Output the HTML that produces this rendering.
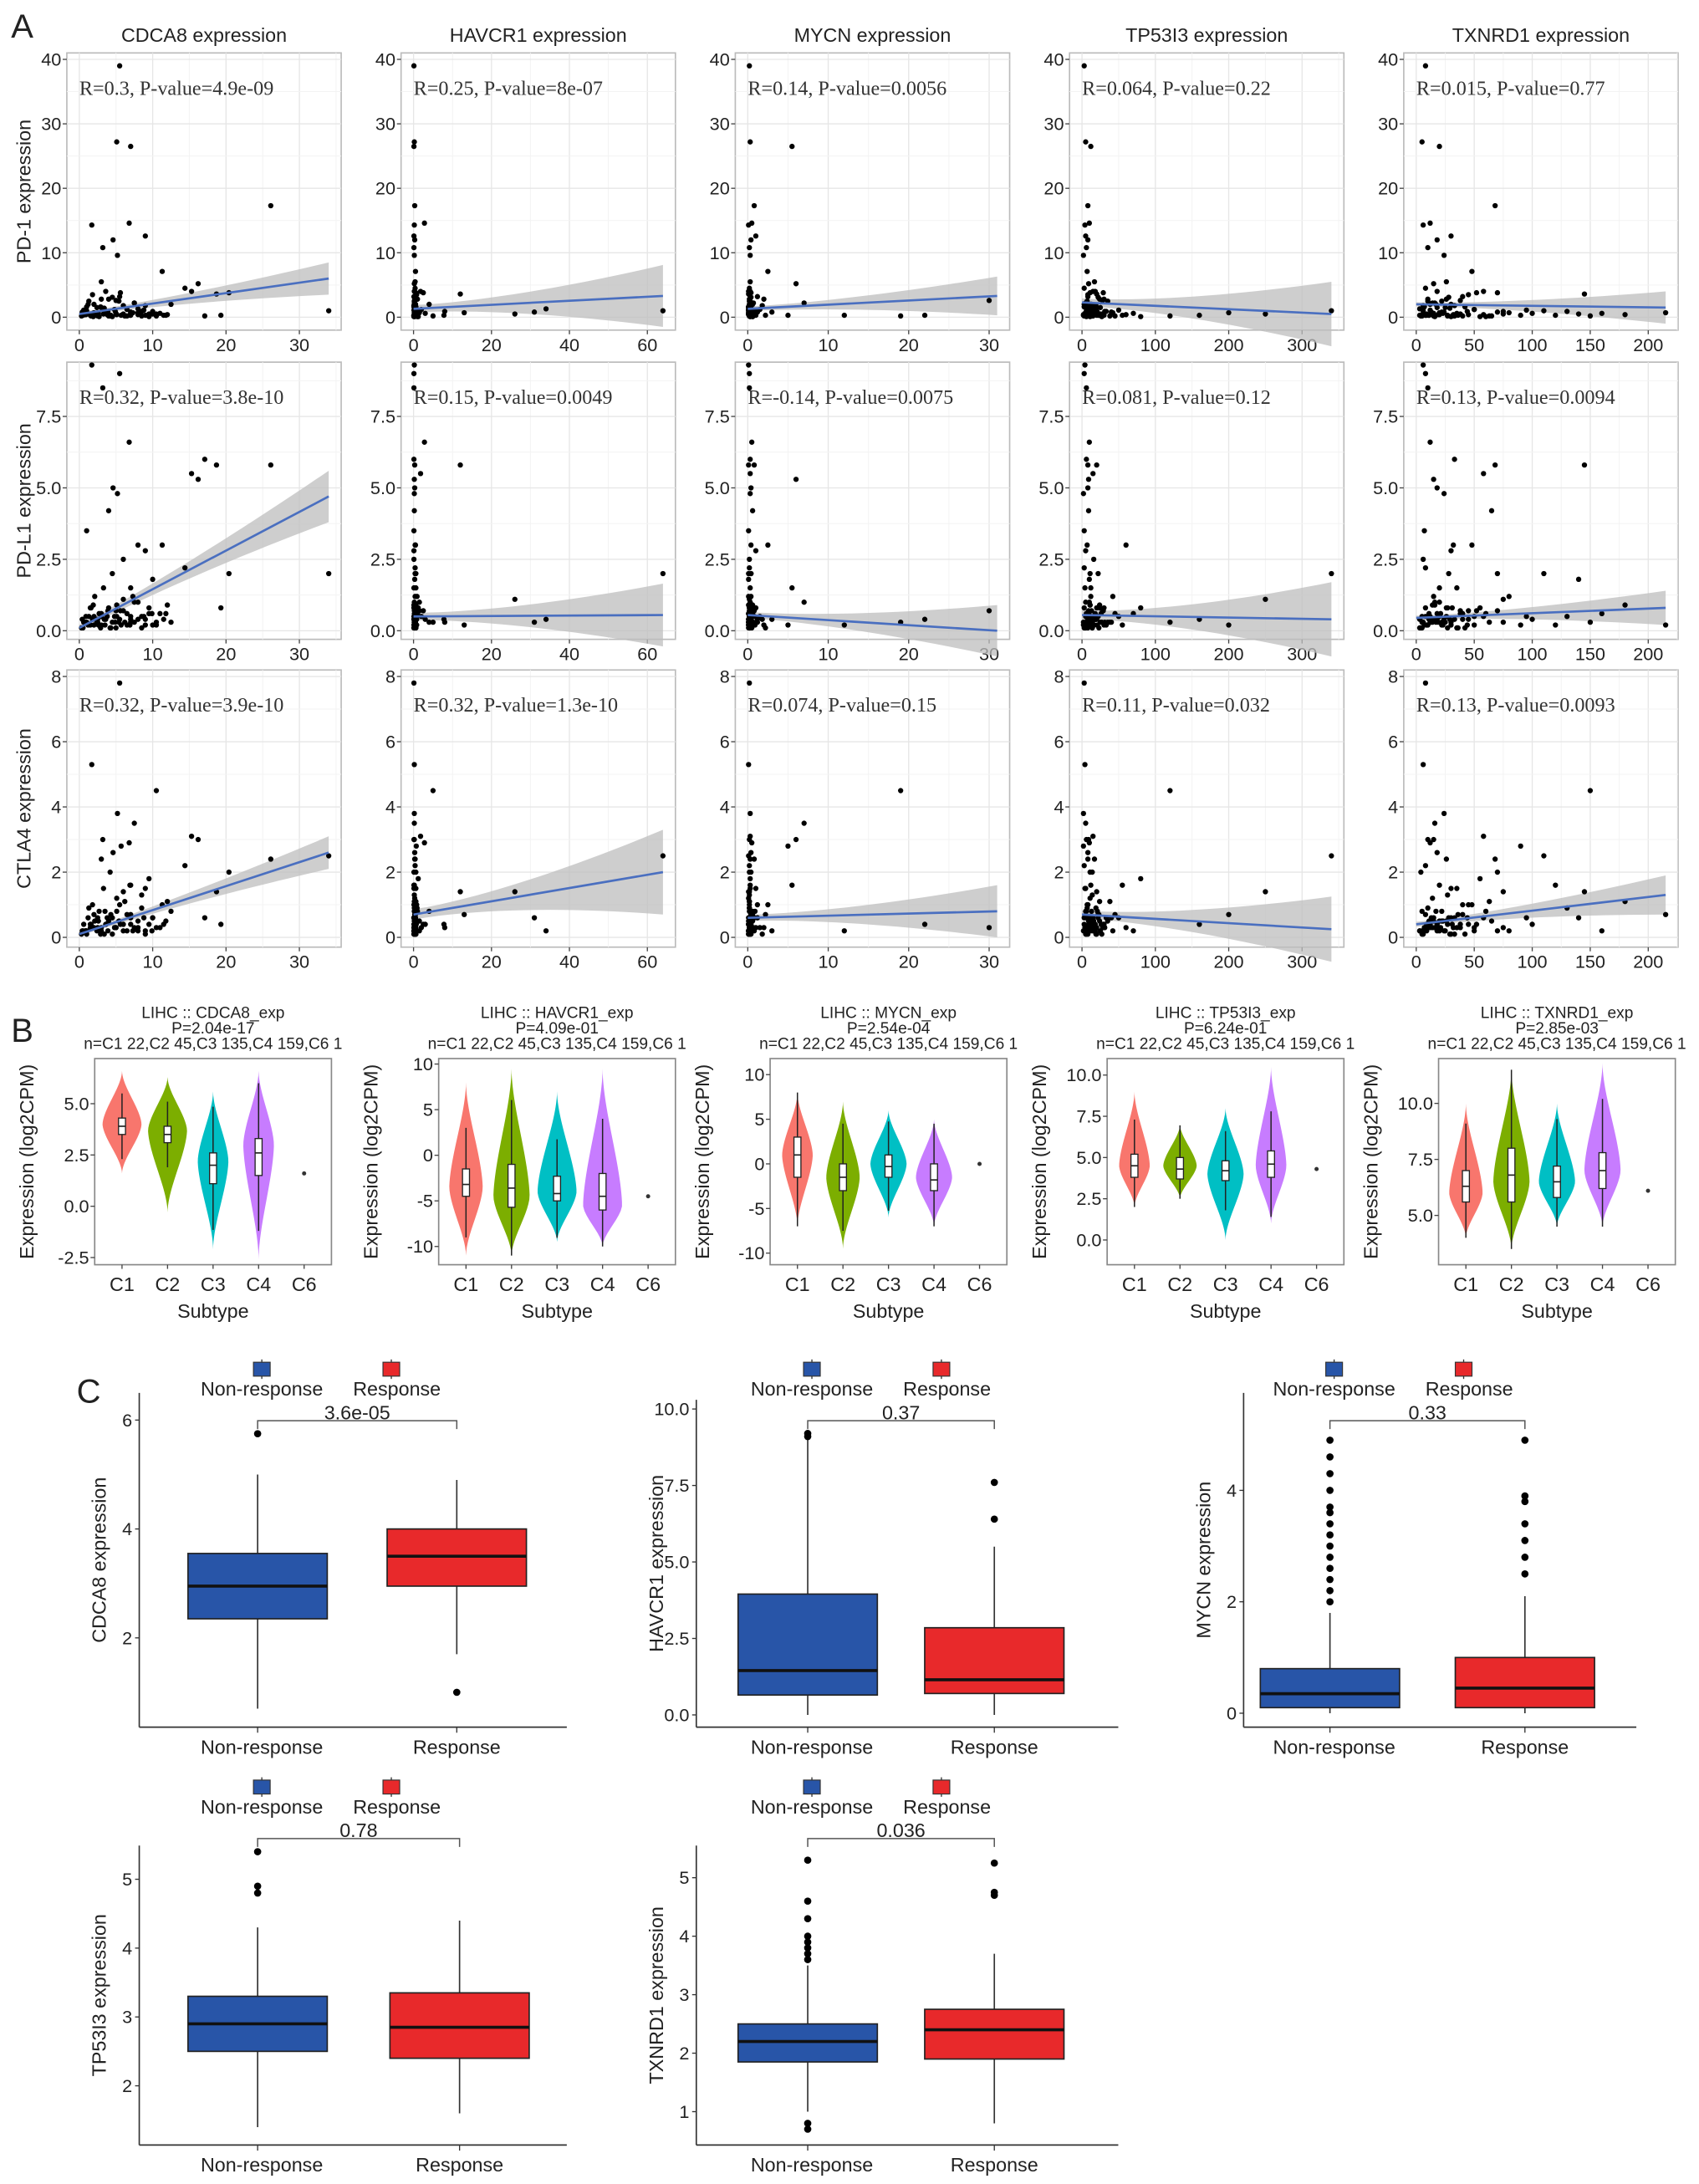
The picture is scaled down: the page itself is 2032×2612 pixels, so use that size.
<!DOCTYPE html>
<html><head><meta charset="utf-8"><style>
html,body{margin:0;padding:0;background:#fff;}
svg{display:block;}
</style></head><body>
<svg id="fig" xmlns="http://www.w3.org/2000/svg" width="2032" height="2612" viewBox="0 0 1220 1568" preserveAspectRatio="none" font-family="Liberation Sans, sans-serif"></svg>
<script>
// ---------- Panel A data (per-sample values) ----------
const geneNames = ["CDCA8","HAVCR1","MYCN","TP53I3","TXNRD1"];
const markerNames = ["PD-1","PD-L1","CTLA4"];
const cdca8 = [0.3,0.6,0.9,1.2,1.5,1.8,2.1,2.4,2.7,3.0,3.3,3.6,3.9,4.2,4.5,4.8,5.1,5.4,5.7,6.0,6.5,7.0,7.5,8.0,8.5,9.0,9.5,10,10.5,11,11.5,12,1.0,2.0,3.0,4.0,5.0,6.0,7.0,8.0,1.7,3.2,4.6,5.2,6.8,9.0,11.3,14.4,15.3,16.2,18.7,20.4,19.3,17.1,5.5,5.1,7.0,26.1,34.0,2.5,
 0.5,1,1.5,2,2.5,3,3.5,4,4.5,5,5.5,6,6.5,7,7.5,8,8.5,9,9.5,10,0.8,1.3,1.9,2.6,3.4,4.3,5.6,6.2,7.3,8.8,10.5,11.8,12.5,0.4,1.6,2.9,3.8,4.9,6.9,9.9];
const havcr1 = [0.1,0.3,0.2,0.5,0.1,0.8,0.4,0.2,1.0,0.3,0.6,0.2,1.5,0.1,0.4,2.0,0.3,0.2,0.7,0.1,0.5,3.0,0.2,0.4,0.9,0.1,1.2,0.3,5.0,0.2,7.8,0.6,0.1,13.0,0.4,0.2,0.3,26.0,31.0,34.0,0.2,0.1,0.3,0.2,2.8,0.1,0.5,0.4,1.8,0.2,12.0,0.6,0.3,0.1,0.1,0.2,0.1,0.3,64,0.4,
 0.1,0.2,0.3,0.5,0.1,0.4,0.2,1.0,0.3,0.6,0.1,0.2,0.8,0.4,0.3,1.5,0.2,0.1,0.7,0.3,0.5,0.2,0.1,0.4,0.6,0.3,2.5,0.2,0.9,0.1,0.3,0.5,4.0,0.2,0.1,0.6,0.3,8.0,0.2,0.4];
const mycn = [0.2,0.1,0.5,0.3,1.0,0.2,0.4,0.1,0.6,2.0,0.3,0.1,0.8,0.2,0.4,1.5,0.1,0.3,5.0,0.2,0.6,0.1,7.0,0.4,0.2,12.0,0.3,0.1,19.0,0.5,22.0,0.2,0.1,0.4,0.3,0.6,30.0,0.2,1.2,0.3,0.1,0.2,0.4,0.3,0.5,1.0,2.5,0.2,0.3,6.0,0.1,0.4,0.2,0.3,0.2,0.3,5.5,0.8,0.1,0.2,
 0.3,0.1,0.2,0.6,0.4,0.1,0.9,0.2,0.3,0.5,1.2,0.2,0.1,0.4,0.7,0.3,0.2,1.8,0.1,0.5,0.3,0.2,0.6,0.1,0.4,2.2,0.3,0.2,0.1,0.8,0.5,0.3,0.2,3.0,0.4,0.1,0.6,0.2,0.3,0.5];
const tp53i3 = [5,10,15,3,20,8,12,25,6,30,4,18,9,14,22,7,11,35,2,16,45,13,5,60,19,8,80,10,120,6,160,24,3,200,17,9,28,250,40,12,4,6,8,2,10,5,7,3,15,9,20,11,30,6,3,5,12,8,340,14,
 3,6,9,12,15,18,21,24,27,4,8,13,17,22,5,10,14,19,26,33,2,7,11,16,20,23,29,38,42,50,6,9,13,17,3,8,12,31,55,70];
const txnrd1 = [5,12,20,30,8,45,15,25,60,10,35,18,70,4,28,50,14,22,90,6,40,100,16,32,130,9,55,140,150,21,11,180,7,215,26,65,38,75,13,3,6,10,18,24,12,30,48,8,58,15,145,70,27,33,8,5,20,68,110,19,
 3,6,9,12,15,18,22,26,30,35,40,45,50,8,14,20,27,33,38,44,5,10,16,23,29,36,52,63,80,95,7,11,17,24,31,42,58,75,120,160];
const pd1 = [0.2,1.1,0.4,2.0,0.3,3.5,0.6,1.5,0.1,2.8,0.5,4.0,0.8,0.2,3.1,1.2,0.4,2.5,0.3,1.8,0.2,0.6,2.2,0.4,0.9,0.3,0.1,0.5,0.2,0.6,0.3,0.4,1.6,0.7,5.5,0.2,2.6,0.5,0.8,1.3,14.3,10.8,12.0,9.6,14.6,12.6,7.1,4.5,4.0,5.2,3.6,3.8,0.3,0.2,39,27.2,26.5,17.3,1.0,0.4,
 0.3,1.0,0.5,2.0,0.2,1.5,0.8,2.8,0.1,0.6,3.2,0.4,1.2,0.3,2.2,0.7,0.2,1.8,0.5,0.9,0.4,2.5,0.1,0.6,1.4,0.3,3.8,0.2,0.7,1.1,0.5,0.3,2.0,0.8,0.2,1.6,0.4,0.9,0.3,0.6];
const pdl1 = [0.1,0.3,0.5,0.2,0.8,0.4,1.2,0.3,0.6,0.2,1.5,0.4,0.7,0.1,2.0,0.5,0.9,0.3,0.2,2.5,0.6,0.4,1.0,3.0,0.5,0.2,0.8,1.8,0.3,0.6,0.4,0.9,3.5,0.2,0.5,4.2,0.7,1.1,0.3,0.4,9.3,8.5,5.0,4.8,6.6,2.8,3.0,2.2,5.5,5.3,5.8,2.0,0.8,6.0,9.0,0.5,1.5,5.8,2.0,0.3,
 0.1,0.3,0.2,0.5,0.4,0.6,0.2,0.8,0.3,0.1,0.4,0.7,0.2,0.5,0.3,1.0,0.1,0.4,0.6,0.2,0.3,0.5,0.9,0.2,0.4,0.1,0.7,0.3,1.2,0.5,0.2,0.6,0.3,0.4,0.8,0.1,0.5,0.3,0.2,0.6];
const ctla4 = [0.1,0.4,0.2,0.6,0.3,1.0,0.5,0.2,0.8,0.3,1.5,0.4,0.2,2.0,0.6,0.3,1.2,0.5,2.8,0.2,0.7,0.4,3.5,0.3,0.9,0.2,1.8,0.6,4.5,0.3,0.4,1.1,0.2,0.7,2.4,0.5,0.3,1.4,0.6,0.2,5.3,3.0,2.6,3.8,2.9,1.5,1.0,2.2,3.1,3.0,1.4,2.0,0.4,0.6,7.8,0.8,1.6,2.4,2.5,0.3,
 0.2,0.1,0.4,0.3,0.6,0.2,0.8,0.5,0.1,0.3,1.0,0.4,0.2,0.7,0.3,0.5,1.3,0.1,0.4,0.6,0.2,0.9,0.3,0.5,0.1,0.7,0.4,1.1,0.2,0.6,0.3,0.5,0.8,0.2,0.4,0.1,0.6,0.3,1.6,0.2];
const geneVals = [cdca8,havcr1,mycn,tp53i3,txnrd1];
const markerVals = [pd1,pdl1,ctla4];
const xMaxData = [34,64,31,340,215];
const xTicks = [[0,10,20,30],[0,20,40,60],[0,10,20,30],[0,100,200,300],[0,50,100,150,200]];
const yTicksA = [[0,10,20,30,40],[0,2.5,5,7.5],[0,2,4,6,8]];
const yTickLabA = [["0","10","20","30","40"],["0.0","2.5","5.0","7.5"],["0","2","4","6","8"]];
const yDomA = [[-2,41],[-0.3,9.4],[-0.3,8.2]];
const annot = [
 ["R=0.3, P-value=4.9e-09","R=0.25, P-value=8e-07","R=0.14, P-value=0.0056","R=0.064, P-value=0.22","R=0.015, P-value=0.77"],
 ["R=0.32, P-value=3.8e-10","R=0.15, P-value=0.0049","R=-0.14, P-value=0.0075","R=0.081, P-value=0.12","R=0.13, P-value=0.0094"],
 ["R=0.32, P-value=3.9e-10","R=0.32, P-value=1.3e-10","R=0.074, P-value=0.15","R=0.11, P-value=0.032","R=0.13, P-value=0.0093"]];
const fitStart = [[0.5,1.3,1.3,2.3,2.0],[0.1,0.5,0.55,0.55,0.45],[0.1,0.7,0.6,0.7,0.4]];
const fitEnd   = [[6.0,3.3,3.3,0.5,1.5],[4.7,0.55,0.0,0.4,0.8],[2.6,2.0,0.8,0.25,1.3]];
const fitHW    = [[2.5,4.8,3.0,5.0,2.5],[0.9,1.1,0.9,1.3,0.6],[0.5,1.3,0.8,1.0,0.6]];

// ---------- Panel B data ----------
const violinTitles = ["CDCA8","HAVCR1","MYCN","TP53I3","TXNRD1"];
const violinP = ["P=2.04e-17","P=4.09e-01","P=2.54e-04","P=6.24e-01","P=2.85e-03"];
const subtypes = ["C1","C2","C3","C4","C6"];
const vMin  = [[1.6,-0.3,-2.1,-2.6],[-11,-11,-9.5,-10],[-7,-9.5,-6,-7],[2,2.5,0,1],[4,3.5,4.5,4.5]];
const vMax  = [[6.6,6.3,5.6,6.6],[8,9.5,7,9.5],[8,7,6,5],[9,7,8,10.5],[10,11.5,10,11.8]];
const vMode = [[4,3.7,2.2,3],[-3.5,-4.5,-4,-5.5],[1,-1.5,0,-1.5],[4.5,4.5,4,4.5],[6,6.5,6.5,7]];
const vWid  = [[14,14,11,11],[12,13,14,14],[11,12,13,13],[11,12,13,11],[12,13,13,13]];
const vQ1   = [[3.5,3.1,1.1,1.5],[-4.5,-5.7,-5,-6],[-1.5,-3,-1.5,-3],[3.8,3.7,3.6,3.8],[5.6,5.6,5.8,6.2]];
const vMed  = [[3.9,3.5,2.0,2.6],[-3.2,-3.6,-4.2,-4.5],[1,-1.5,-0.3,-1.8],[4.5,4.3,4.2,4.6],[6.3,6.8,6.5,7]];
const vQ3   = [[4.3,3.9,2.6,3.3],[-1.5,-1,-2.3,-2],[3,0,1,0],[5.2,5,4.8,5.4],[7,8,7.2,7.8]];
const vC6   = [1.6,-4.5,0,4.3,6.1];
const yDomB = [[-2.85,7.2],[-12,10.6],[-11.3,11.8],[-1.5,11],[2.8,12]];
const yTicksB = [[-2.5,0,2.5,5],[-10,-5,0,5,10],[-10,-5,0,5,10],[0,2.5,5,7.5,10],[5,7.5,10]];
const yTickLabB = [["-2.5","0.0","2.5","5.0"],["-10","-5","0","5","10"],["-10","-5","0","5","10"],["0.0","2.5","5.0","7.5","10.0"],["5.0","7.5","10.0"]];

// ---------- Panel C data ----------
const boxGenes = ["CDCA8","HAVCR1","MYCN","TP53I3","TXNRD1"];
const boxP = ["3.6e-05","0.37","0.33","0.78","0.036"];
const nrWhisk = [[0.7,5.0],[0,9.0],[0,1.8],[1.4,4.3],[1.0,3.5]];
const nrBox = [[2.35,2.95,3.55],[0.65,1.45,3.95],[0.1,0.35,0.8],[2.5,2.9,3.3],[1.85,2.2,2.5]];
const nrOut = [[5.75],[9.1,9.2],[2.0,2.2,2.4,2.6,2.8,3.0,3.2,3.4,3.6,3.7,4.0,4.3,4.6,4.9],[4.8,4.9,5.4],[0.7,0.8,3.6,3.7,3.8,3.9,4.0,4.3,4.6,5.3]];
const rWhisk = [[1.7,4.9],[0,5.5],[0,2.1],[1.6,4.4],[0.8,3.7]];
const rBox = [[2.95,3.5,4.0],[0.7,1.15,2.85],[0.1,0.45,1.0],[2.4,2.85,3.35],[1.9,2.4,2.75]];
const rOut = [[1.0],[6.4,7.6],[2.5,2.8,3.1,3.4,3.8,3.9,4.9],[],[4.7,4.75,5.25]];
const yDomC = [[0.36,6.5],[-0.4,10.3],[-0.25,5.75],[1.14,5.49],[0.43,5.55]];
const yTicksC = [[2,4,6],[0,2.5,5,7.5,10],[0,2,4],[2,3,4,5],[1,2,3,4,5]];
const yTickLabC = [["2","4","6"],["0.0","2.5","5.0","7.5","10.0"],["0","2","4"],["2","3","4","5"],["1","2","3","4","5"]];

// ---------- drawing ----------
const svg = document.getElementById('fig');
const NS = "http://www.w3.org/2000/svg";
function mk(tag, attrs, parent){const e=document.createElementNS(NS,tag);for(const k in attrs)e.setAttribute(k,attrs[k]);(parent||svg).appendChild(e);return e;}
function txt(s,x,y,size,anchor,parent,extra){const t=mk('text',Object.assign({x:x,y:y,'font-size':size,'text-anchor':anchor||'middle',fill:'#222'},extra||{}),parent);t.textContent=s;return t;}
function lin(d0,d1,r0,r1){return v=>r0+(v-d0)/(d1-d0)*(r1-r0);}

let lab;
lab = txt("A",8,27,24,'start');


lab = txt("B",8,748,24,'start');


lab = txt("C",55,1007,24,'start');



// Panel A
const colL = [48,288,528,768,1008];
const pW = 197;
const rowT = [38,260,481];
const pH = 199;
for(let r=0;r<3;r++){
  const yl = txt(markerNames[r]+" expression",0,0,14,'middle',null,{transform:`translate(22,${rowT[r]+pH/2}) rotate(-90)`});
  
  
  for(let c=0;c<5;c++){
    const g = mk('g',{});
    
    
    const L=colL[c],T=rowT[r],R=L+pW,B=T+pH;
    const xm=xMaxData[c];
    const xs=lin(-0.05*xm,1.05*xm,L,R);
    const ys=lin(yDomA[r][0],yDomA[r][1],B,T);
    mk('rect',{x:L,y:T,width:pW,height:pH,fill:'#fff',stroke:'#bbb','stroke-width':1},g);
    const xt=xTicks[c],yt=yTicksA[r];
    for(let i=0;i<xt.length;i++){
      mk('line',{x1:xs(xt[i]),x2:xs(xt[i]),y1:T,y2:B,stroke:'#e6e6e6','stroke-width':0.8},g);
      const mid=xt[i]+(xt[1]-xt[0])/2; if(xs(mid)<R) mk('line',{x1:xs(mid),x2:xs(mid),y1:T,y2:B,stroke:'#f3f3f3','stroke-width':0.6},g);
      mk('line',{x1:xs(xt[i]),x2:xs(xt[i]),y1:B,y2:B+3,stroke:'#444','stroke-width':0.8},g);
      const t=txt(String(xt[i]),xs(xt[i]),B+15,13,'middle',g);
      
      
    }
    for(let i=0;i<yt.length;i++){
      mk('line',{x1:L,x2:R,y1:ys(yt[i]),y2:ys(yt[i]),stroke:'#e6e6e6','stroke-width':0.8},g);
      const mid=yt[i]+(yt[1]-yt[0])/2; if(ys(mid)>T) mk('line',{x1:L,x2:R,y1:ys(mid),y2:ys(mid),stroke:'#f3f3f3','stroke-width':0.6},g);
      mk('line',{x1:L-3,x2:L,y1:ys(yt[i]),y2:ys(yt[i]),stroke:'#444','stroke-width':0.8},g);
      const t=txt(yTickLabA[r][i],L-4,ys(yt[i])+4.5,13,'end',g);
      
      
    }
    const y0=fitStart[r][c],y1=fitEnd[r][c],w1=fitHW[r][c],w0=w1*0.12;
    const up=[],dn=[];
    for(let k=0;k<=20;k++){const u=k/20,x=u*xm,y=y0+(y1-y0)*u,w=w0+(w1-w0)*Math.pow(Math.abs(u-0.04)/0.96,1.6);up.push(`${xs(x)},${ys(y+w)}`);dn.unshift(`${xs(x)},${ys(y-w)}`);}
    const band=mk('polygon',{points:up.concat(dn).join(' '),fill:'#bdbdbd','fill-opacity':0.75},g);
    
    
    const gx=geneVals[c],my=markerVals[r];
    for(let i=0;i<gx.length;i++){
      const p=mk('circle',{cx:xs(gx[i]),cy:ys(my[i]),r:1.9,fill:'#000'},g);
      
      
    }
    const fl=mk('line',{x1:xs(0),y1:ys(y0),x2:xs(xm),y2:ys(y1),stroke:'#4a6fc0','stroke-width':1.6},g);
    
    
    const an=txt(annot[r][c],L+9,T+30,14.5,'start',g,{'font-family':'Liberation Serif, serif',fill:'#333'});
    
    
    if(r===0){const tt=txt(geneNames[c]+" expression",L+pW/2,30,14,'middle',g);
      
      }
  }
}

// Panel B violins
const vL=[68,315,553,795,1033], vW=170, vT=760, vB=908;
const vCols=["#F8766D","#7CAE00","#00BFC4","#C77CFF"];
for(let p=0;p<5;p++){
  const g=mk('g',{});
  
  
  const L=vL[p],R=L+vW;
  const xs=lin(0.4,5.6,L,R);
  const ys=lin(yDomB[p][0],yDomB[p][1],vB,vT);
  const cx=L+vW/2;
  txt(`LIHC :: ${violinTitles[p]}_exp`,cx,731,11.5,'middle',g);
  txt(violinP[p],cx,742,11.5,'middle',g);
  txt("n=C1 22,C2 45,C3 135,C4 159,C6 1",cx,753,11.5,'middle',g);
  mk('rect',{x:L,y:vT,width:vW,height:vB-vT,fill:'#fff',stroke:'#888','stroke-width':1},g);
  for(let i=0;i<yTicksB[p].length;i++){
    const y=ys(yTicksB[p][i]);
    mk('line',{x1:L-3,x2:L,y1:y,y2:y,stroke:'#444','stroke-width':0.8},g);
    const t=txt(yTickLabB[p][i],L-4,y+4.5,13,'end',g);
    
    
  }
  for(let k=0;k<5;k++){
    mk('line',{x1:xs(k+1),x2:xs(k+1),y1:vB,y2:vB+3,stroke:'#444','stroke-width':0.8},g);
    txt(subtypes[k],xs(k+1),vB+19,14,'middle',g);
  }
  txt("Subtype",cx,vB+38,14,'middle',g);
  txt("Expression (log2CPM)",0,0,14,'middle',g,{transform:`translate(${L-44},${(vT+vB)/2}) rotate(-90)`});
  for(let k=0;k<4;k++){
    const X=xs(k+1),mn=vMin[p][k],mx=vMax[p][k],mo=vMode[p][k],w=vWid[p][k];
    const right=[],left=[];
    for(let s=0;s<=40;s++){
      const v=mn+(mx-mn)*s/40;
      const d=v<mo?(mo-v)/(mo-mn):(v-mo)/(mx-mo);
      const hw=w*Math.pow(Math.max(0,1-Math.pow(d,1.6)),1.8);
      right.push(`${X+hw},${ys(v)}`);left.unshift(`${X-hw},${ys(v)}`);
    }
    const vp=mk('polygon',{points:right.concat(left).join(' '),fill:vCols[k]},g);
    
    
    const q1=vQ1[p][k],md=vMed[p][k],q3=vQ3[p][k],iq=q3-q1;
    mk('line',{x1:X,x2:X,y1:ys(Math.min(mx,q3+1.5*iq)),y2:ys(Math.max(mn,q1-1.5*iq)),stroke:'#222','stroke-width':0.9},g);
    mk('rect',{x:X-2.5,y:ys(q3),width:5,height:ys(q1)-ys(q3),fill:'#fff',stroke:'#222','stroke-width':0.8},g);
    mk('line',{x1:X-2.5,x2:X+2.5,y1:ys(md),y2:ys(md),stroke:'#222','stroke-width':1},g);
  }
  const d6=mk('circle',{cx:xs(5),cy:ys(vC6[p]),r:1.5,fill:'#333'},g);
  
  
}

// Panel C boxplots
const cAxisX=[100,500,893,100,500];
const cTop=[1000,1005,1000,1325,1325];
const cBot=[1240,1240,1240,1540,1540];
const cRight=[407,803,1175,407,803];
const cNR=[185,580,955,185,580];
const cR=[328,714,1095,330,714];
const cLegY=[983,983,983,1283,1283];
const BLUE="#2855a8", RED="#e8292b";
for(let p=0;p<5;p++){
  const g=mk('g',{});
  
  
  const ys=lin(yDomC[p][0],yDomC[p][1],cBot[p],cTop[p]);
  const A=cAxisX[p];
  mk('line',{x1:A,x2:A,y1:cTop[p],y2:cBot[p],stroke:'#333','stroke-width':1},g);
  mk('line',{x1:A,x2:cRight[p],y1:cBot[p],y2:cBot[p],stroke:'#333','stroke-width':1},g);
  for(let i=0;i<yTicksC[p].length;i++){
    const y=ys(yTicksC[p][i]);
    mk('line',{x1:A-3,x2:A,y1:y,y2:y,stroke:'#333','stroke-width':0.8},g);
    txt(yTickLabC[p][i],A-5,y+4.5,13,'end',g);
  }
  txt(boxGenes[p]+" expression",0,0,14,'middle',g,{transform:`translate(${A-24},${(cTop[p]+cBot[p])/2}) rotate(-90)`});
  const groups=[[cNR[p],nrWhisk[p],nrBox[p],nrOut[p],BLUE,"Non-response"],[cR[p],rWhisk[p],rBox[p],rOut[p],RED,"Response"]];
  const lg=mk('g',{},g);
  
  
  const legX=[cNR[p]+3,cNR[p]+96];
  for(let k=0;k<2;k++){
    const gr=groups[k];
    mk('line',{x1:legX[k],x2:legX[k],y1:cLegY[p]-7,y2:cLegY[p]+7,stroke:'#333','stroke-width':0.8},lg);
    const sw=mk('rect',{x:legX[k]-6,y:cLegY[p]-5,width:12,height:10,fill:gr[4],stroke:'#333','stroke-width':0.7},lg);
    
    
    txt(gr[5],legX[k]+(k?4:0),cLegY[p]+19,14,'middle',lg);
  }
  for(let k=0;k<2;k++){
    const gr=groups[k],X=gr[0],bw=50;
    mk('line',{x1:X,x2:X,y1:ys(gr[1][0]),y2:ys(gr[1][1]),stroke:'#333','stroke-width':1},g);
    const bx=mk('rect',{x:X-bw,y:ys(gr[2][2]),width:2*bw,height:ys(gr[2][0])-ys(gr[2][2]),fill:gr[4],stroke:'#222','stroke-width':1},g);
    
    
    mk('line',{x1:X-bw,x2:X+bw,y1:ys(gr[2][1]),y2:ys(gr[2][1]),stroke:'#111','stroke-width':2.2},g);
    for(const o of gr[3]){
      const c=mk('circle',{cx:X,cy:ys(o),r:2.6,fill:'#000'},g);
      
      
    }
    mk('line',{x1:X,x2:X,y1:cBot[p],y2:cBot[p]+4,stroke:'#333','stroke-width':0.8},g);
    txt(gr[5],X+(k?0:3),cBot[p]+19,14,'middle',g);
  }
  const by=cLegY[p]+37;
  mk('path',{d:`M${cNR[p]},${by+6} V${by} H${cR[p]} V${by+6}`,fill:'none',stroke:'#555','stroke-width':0.9},g);
  const pt=txt(boxP[p],(cNR[p]+cR[p])/2,by-1,14,'middle',g);
  
  
}
</script>
</body></html>
